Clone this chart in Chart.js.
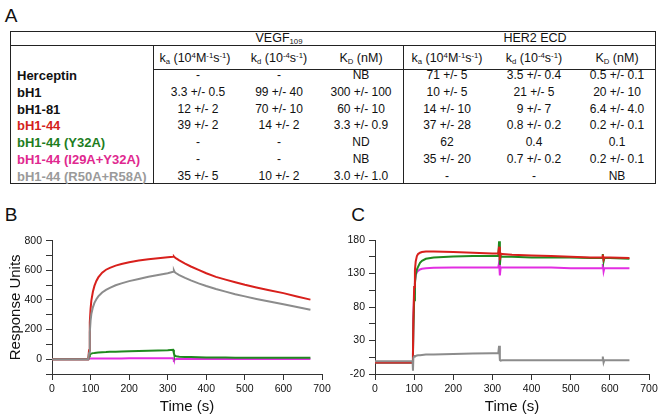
<!DOCTYPE html>
<html><head><meta charset="utf-8">
<script src="https://cdn.jsdelivr.net/npm/chart.js@4/dist/chart.umd.min.js"></script>
<style>
html,body{margin:0;padding:0;background:#fff;}
body{width:661px;height:417px;position:relative;overflow:hidden;font-family:"Liberation Sans",Arial,sans-serif;color:#111;}
.c{position:absolute;transform:translate(-50%,-50%);white-space:nowrap;line-height:1;}
.l{position:absolute;transform:translateY(-50%);white-space:nowrap;line-height:1;}
.hl{position:absolute;height:0;border-top:1px solid #222;}
.vl{position:absolute;width:0;border-left:1px solid #222;}
sub,sup{font-size:62%;line-height:0;}
sub{vertical-align:-0.25em;} sup{vertical-align:0.5em;}
canvas{position:absolute;}
</style></head><body>
<div id="tbl"></div>
<canvas id="chartB" width="340" height="217" style="left:0;top:200px"></canvas>
<canvas id="chartC" width="326" height="217" style="left:335px;top:200px"></canvas>
<script>
// ---- Table data ----
const names = ['Herceptin','bH1','bH1-81','bH1-44','bH1-44 (Y32A)','bH1-44 (I29A+Y32A)','bH1-44 (R50A+R58A)'];
const vegfKa = ['-','3.3 +/- 0.5','12 +/- 2','39 +/- 2','-','-','35 +/- 5'];
const vegfKd = ['-','99 +/- 40','70 +/- 10','14 +/- 2','-','-','10 +/- 2'];
const vegfKD = ['NB','300 +/- 100','60 +/- 10','3.3 +/- 0.9','ND','NB','3.0 +/- 1.0'];
const her2Ka = ['71 +/- 5','10 +/- 5','14 +/- 10','37 +/- 28','62','35 +/- 20','-'];
const her2Kd = ['3.5 +/- 0.4','21 +/- 5','9 +/- 7','0.8 +/- 0.2','0.4','0.7 +/- 0.2','-'];
const her2KD = ['0.5 +/- 0.1','20 +/- 10','6.4 +/- 4.0','0.2 +/- 0.1','0.1','0.2 +/- 0.1','NB'];

// ---- Panel B (VEGF binding) ----
const timeB = [0,50,94,96,98,100,102,106,110,115,120,130,140,150,165,180,200,225,250,275,300,314,316,318,322,330,345,360,380,400,425,450,475,500,530,560,600,635,670];
const redB  = [0,0,0,60,250,340,395,455,495,528,552,584,604,617,632,643,655,666,675,682,688,692,694,688,680,667,645,626,603,580,556,537,519,502,484,467,446,423,402];
const grayB = [0,0,0,40,180,260,305,350,380,405,424,450,468,482,499,512,527,542,556,568,580,590,600,588,580,568,549,532,512,494,474,456,439,424,407,391,371,352,334];
const greenB= [0,0,0,20,30,35,38,41,42,44,45,47,48,50,51,52,54,55,57,58,60,63,40,24,20,17,15,14,13,12,11,11,10,10,10,9,9,9,9];
const magentaB=[0,0,0,4,5,5,5,5,5,5,5,5,5,5,5,5,6,6,6,6,6,6,-6,-2,1,1,1,1,1,1,1,1,1,1,1,1,1,1,1];

// ---- Panel C (HER2 ECD binding) ----
const timeC = [0,50,94,96,97,98,100,102,104,107,110,115,120,130,150,200,250,300,315,317,319,321,325,350,400,450,500,550,580,582,584,586,600,650];
const redC  = [-3,-3,-3,-3,10,60,110,135,148,156,159,161,162,163,163,162,161,160,160,170,150,160,159,158,157,156,155,154,154,158,151,154,154,153];
const greenC= [-3,-3,-3,-3,8,45,90,115,128,136,140,146,149,152,154,155.5,156,156,156,178,143,156,155,155,154,154,154,153,153,159,148,153,153,152];
const magentaC=[-3,-3,-3,-3,10,60,100,118,127,132,134,136,137,138,138.5,139,139,139,139,146,127,139,139,139,139,139,138,138,138,144,133,138,138,138];
const grayC = [-1,-1,-1,-1,-15,4,6,7,7,7.5,8,8,8.5,9,9,10,10.5,11,11,22,1,0,0.5,0.5,0.5,0.5,0.5,0.5,0.5,6,-3,0.5,0.5,0.5];

const xTicks = [0,100,200,300,400,500,600,700];
const yTicksB = [-100,0,100,200,300,400,500,600,700,800];
const yTicksC = [-20,5,30,55,80,105,130,155,180];

// ---------- table drawing (layout/style only) ----------
const rowColors = ['#111','#111','#111','#d41f1c','#1e7d1e','#e0288f','#9a9a9a'];
const tbl = document.getElementById('tbl');
function add(html){ tbl.insertAdjacentHTML('beforeend', html); }
function txt(cls,x,y,s,style){ add(`<div class="${cls}" style="left:${x}px;top:${y}px;${style||''}">${s}</div>`); }
// lines
add('<div class="hl" style="left:10px;top:31px;width:645px"></div>');
add('<div class="hl" style="left:10px;top:45px;width:645px"></div>');
add('<div class="hl" style="left:153px;top:69px;width:502px"></div>');
add('<div class="hl" style="left:10px;top:183px;width:646px"></div>');
add('<div class="vl" style="left:10px;top:31px;height:152px"></div>');
add('<div class="vl" style="left:655px;top:31px;height:152px"></div>');
add('<div class="vl" style="left:153px;top:45px;height:138px"></div>');
add('<div class="vl" style="left:403px;top:45px;height:138px"></div>');
// headers
const hs = 'font-size:12.5px;';
txt('c',279,38,'VEGF<sub>109</sub>',hs);
txt('c',535,38,'HER2 ECD',hs);
const kaH = 'k<sub>a</sub> (10<sup>4</sup>M<sup>-1</sup>s<sup>-1</sup>)';
const kdH = 'k<sub>d</sub> (10<sup>-4</sup>s<sup>-1</sup>)';
const KDH = 'K<sub>D</sub> (nM)';
const cols = [195,279,361,447,534,617];
[kaH,kdH,KDH,kaH,kdH,KDH].forEach((h,i)=>txt('c',cols[i],58,h,hs));
const vcols = [198,279,361,447,534,617];
const rowY = i => 75 + 16.8*i;
names.forEach((n,i)=>{
  txt('l',17,rowY(i),n,`font-size:13px;font-weight:bold;color:${rowColors[i]};`);
  [vegfKa,vegfKd,vegfKD,her2Ka,her2Kd,her2KD].forEach((arr,j)=>txt('c',vcols[j],rowY(i),arr[i],'font-size:12px;'));
});
txt('c',11,15,'A','font-size:19px;');
txt('c',11,214,'B','font-size:19px;');
txt('c',358,214,'C','font-size:19px;');

// ---------- charts ----------
const F = '"Liberation Sans", Arial, sans-serif';
const COL = {red:'#d8201c', gray:'#8c8c8c', green:'#1f8a1f', magenta:'#e22ee2'};
function pts(t,v){ return t.map((x,i)=>({x:x,y:v[i]})); }
function ds(t,v,c){ return {data:pts(t,v),borderColor:c,backgroundColor:c,borderWidth:2,pointRadius:0,tension:0,fill:false}; }
function scales(yMin,yMax,yTicks,labelEvery,yWidth,yTitle){
  return {
    x:{type:'linear',min:0,max:700,
       afterBuildTicks:s=>{s.ticks=xTicks.map(v=>({value:v}));},
       ticks:{font:{size:10.5,family:F},color:'#111',padding:3,maxRotation:0,autoSkip:false},
       grid:{drawOnChartArea:false,drawTicks:true,tickLength:6,color:'#333',lineWidth:1},
       border:{display:true,color:'#333',width:1},
       title:{display:true,text:'Time (s)',font:{size:15,family:F},color:'#111',padding:{top:0,bottom:1}},
       afterFit:s=>{s.height=43;}},
    y:{type:'linear',min:yMin,max:yMax,
       afterBuildTicks:s=>{s.ticks=yTicks.map(v=>({value:v}));},
       ticks:{font:{size:10.5,family:F},color:'#111',padding:4,autoSkip:false,
              callback:(v)=>labelEvery.includes(v)?String(v):''},
       grid:{drawOnChartArea:false,drawTicks:true,tickLength:6,color:'#333',lineWidth:1},
       border:{display:true,color:'#333',width:1},
       title:{display:!!yTitle,text:yTitle||'',font:{size:15,family:F},color:'#111',padding:{top:7,bottom:0}},
       afterFit:s=>{s.width=yWidth;}}
  };
}
const common = {responsive:false,animation:false,devicePixelRatio:1,
  plugins:{legend:{display:false},tooltip:{enabled:false}}};

new Chart(document.getElementById('chartB'),{
  type:'line',
  data:{datasets:[ds(timeB,grayB,COL.gray),ds(timeB,redB,COL.red),ds(timeB,greenB,COL.green),ds(timeB,magentaB,COL.magenta)]},
  options:Object.assign({},common,{
    layout:{padding:{left:0,right:18,top:40.7,bottom:0}},
    scales:scales(-100,800,yTicksB,[0,200,400,600,800],52,'Response Units')})
});
new Chart(document.getElementById('chartC'),{
  type:'line',
  data:{datasets:[ds(timeC,grayC,COL.gray),ds(timeC,redC,COL.red),ds(timeC,greenC,COL.green),ds(timeC,magentaC,COL.magenta)]},
  options:Object.assign({},common,{
    layout:{padding:{left:0,right:12,top:40,bottom:0}},
    scales:scales(-20,180,yTicksC,[-20,30,80,130,180],40,'')})
});
</script>
</body></html>
